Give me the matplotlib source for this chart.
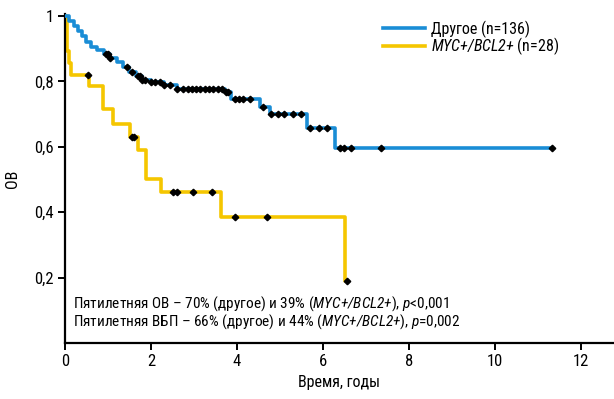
import numpy as np
import matplotlib
matplotlib.use("Agg")
import matplotlib.pyplot as plt
import matplotlib.font_manager as fm
from matplotlib.lines import Line2D

# ---- pick a condensed sans family if one is installed ----
COND = ('condensed', 'semi-condensed', 'extra-condensed', 'ultra-condensed')
pref = ['Roboto Condensed', 'Liberation Sans Narrow', 'Noto Sans', 'DejaVu Sans',
        'Open Sans', 'Lato', 'Inter', 'Roboto']
FAM, STRETCH = 'Roboto', 'normal'
for fam in pref:
    hits = [e for e in fm.fontManager.ttflist
            if e.name == fam and (str(e.stretch) in COND
                                  or fam in ('Roboto Condensed', 'Liberation Sans Narrow'))]
    if hits:
        FAM, STRETCH = fam, str(hits[0].stretch)
        break

plt.rcParams['font.family'] = [FAM, 'DejaVu Sans']
plt.rcParams['font.stretch'] = STRETCH
plt.rcParams['mathtext.fontset'] = 'custom'
# math parts are only used for the italic words, so make every math glyph italic
plt.rcParams['mathtext.rm'] = f'{FAM}:style=italic:stretch={STRETCH}'
plt.rcParams['mathtext.it'] = f'{FAM}:style=italic:stretch={STRETCH}'

# ---- data ----
other_times = [0.0, 0.1, 0.2, 0.3, 0.4, 0.5, 0.6, 0.75, 0.9, 1.05, 1.2, 1.35, 1.5,
               1.65, 1.8, 2.0, 2.3, 2.6, 3.72, 3.85, 4.53, 4.77, 5.63, 6.28, 11.33]
other_surv = [1.0, 0.985, 0.97, 0.955, 0.94, 0.92, 0.905, 0.895, 0.885, 0.87, 0.86,
              0.845, 0.83, 0.815, 0.805, 0.798, 0.79, 0.776, 0.766, 0.745, 0.722,
              0.70, 0.656, 0.595, 0.595]
other_cens = [0.95, 1.0, 1.05, 1.45, 1.55, 1.7, 1.75, 1.8, 1.85, 2.0, 2.1, 2.2, 2.3,
              2.45, 2.6, 2.75, 2.85, 2.95, 3.05, 3.15, 3.25, 3.35, 3.45, 3.55, 3.65,
              3.75, 3.8, 3.95, 4.05, 4.15, 4.3, 4.6, 4.8, 4.95, 5.1, 5.3, 5.5, 5.7,
              5.9, 6.1, 6.4, 6.5, 6.65, 7.35, 11.33]

myc_times = [0.0, 0.05, 0.1, 0.15, 0.55, 0.88, 1.12, 1.51, 1.70, 1.88, 2.23, 3.64, 6.51, 6.55]
myc_surv = [1.0, 0.893, 0.857, 0.821, 0.786, 0.714, 0.671, 0.629, 0.589, 0.503, 0.461,
            0.385, 0.19, 0.19]
myc_cens = [0.54, 1.55, 1.6, 2.52, 2.6, 2.98, 3.41, 3.95, 4.7, 6.55]

x_ticks = [0, 2, 4, 6, 8, 10, 12]
y_ticks = [0.2, 0.4, 0.6, 0.8, 1.0]
y_tick_labels = ['0,2', '0,4', '0,6', '0,8', '1']

labels = ['Другое (n=136)', r'$\mathit{MYC{+}/BCL2{+}}$ (n=28)']
annot = [r'Пятилетняя ОВ – 70% (другое) и 39% ($\mathit{MYC{+}/BCL2{+}}$), $\mathit{p}$<0,001',
         r'Пятилетняя ВБП – 66% (другое) и 44% ($\mathit{MYC{+}/BCL2{+}}$), $\mathit{p}$=0,002']

BLUE = '#1a8dd6'
YELLOW = '#f5c600'


def surv_at(times, surv, t):
    idx = np.searchsorted(times, t, side='right') - 1
    return np.asarray(surv)[idx]


fig = plt.figure(figsize=(6.14, 3.99), dpi=100)
ax = fig.add_axes([65 / 614, 56 / 399, 549 / 614, 329 / 399])

ax.step(myc_times, myc_surv, where='post', color=YELLOW, lw=2.6, zorder=2)
ax.step(other_times, other_surv, where='post', color=BLUE, lw=2.6, zorder=3)
ax.plot(myc_cens, surv_at(myc_times, myc_surv, myc_cens), 'D', color='black',
        ms=3.3, zorder=4)
ax.plot(other_cens, surv_at(other_times, other_surv, other_cens), 'D', color='black',
        ms=3.3, zorder=4)

ax.set_xlim(0, 12.77)
ax.set_ylim(0, 1.006)
ax.set_xticks(x_ticks)
ax.set_xticklabels([str(t) for t in x_ticks])
ax.set_yticks(y_ticks)
ax.set_yticklabels(y_tick_labels)
for s in ['top', 'right']:
    ax.spines[s].set_visible(False)
for s in ['left', 'bottom']:
    ax.spines[s].set_linewidth(1.6)
ax.tick_params(direction='out', length=5, width=1.4, labelsize=12, pad=3)
ax.set_xlabel('Время, годы', fontsize=11.5, labelpad=4)
ax.set_ylabel('ОВ', fontsize=11.5, labelpad=10)

handles = [Line2D([], [], color=BLUE, lw=2.6), Line2D([], [], color=YELLOW, lw=2.6)]
ax.legend(handles, labels, loc='upper left', bbox_to_anchor=(0.562, 1.01),
          frameon=False, fontsize=11.5, handlelength=2.6, handletextpad=0.4,
          labelspacing=-0.12, borderaxespad=0.2)

ax.text(0.014, 0.12, annot[0], transform=ax.transAxes, fontsize=11, va='center')
ax.text(0.014, 0.065, annot[1], transform=ax.transAxes, fontsize=11, va='center')

fig.savefig('out.png', dpi=100)
